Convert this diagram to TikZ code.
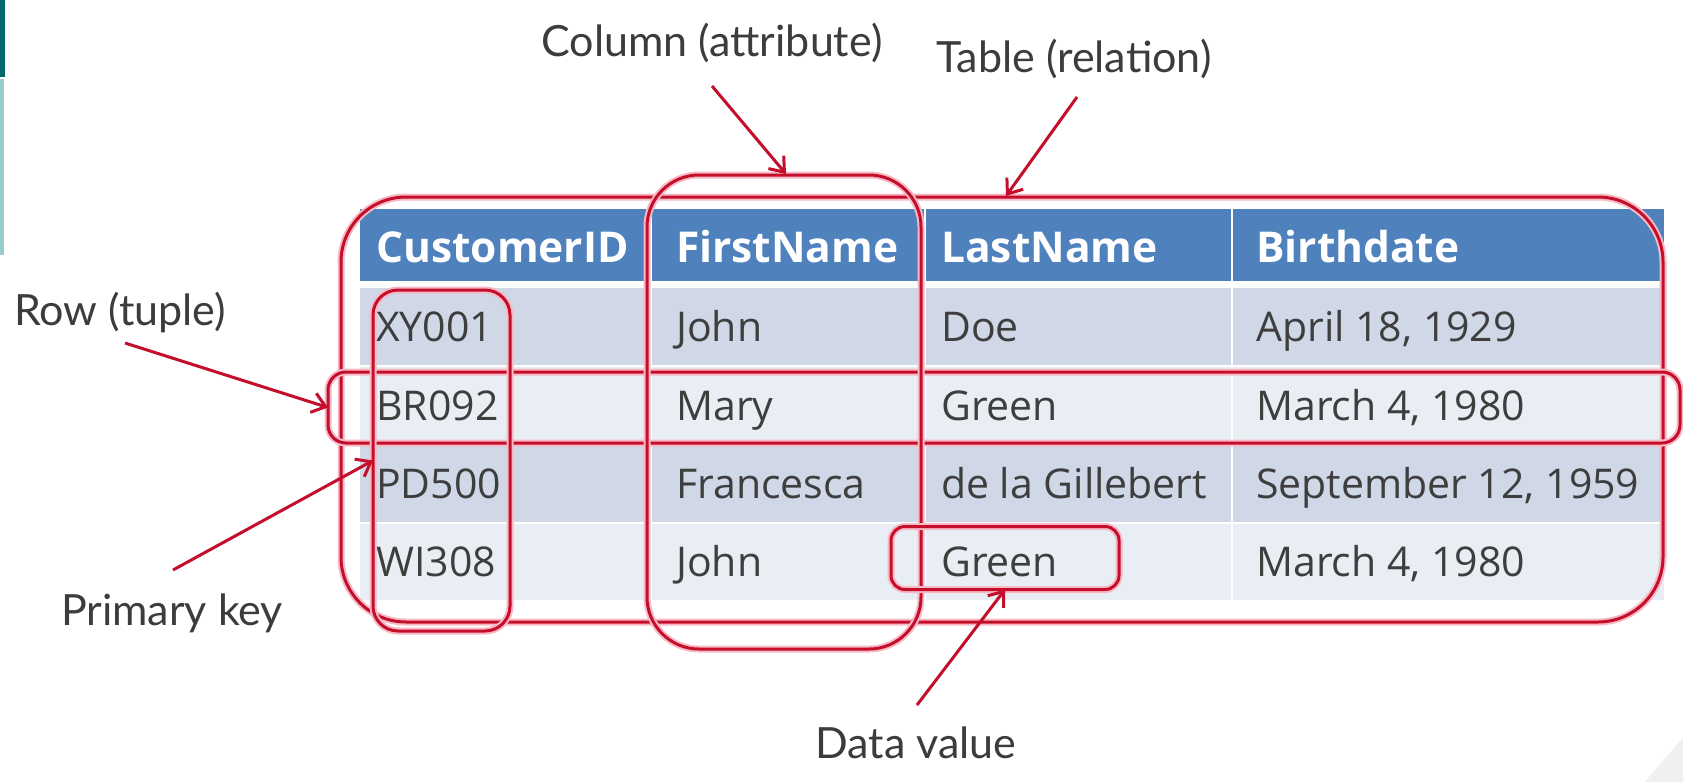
\documentclass[tikz,border=0pt]{standalone}
\usepackage{fontspec}
\setmainfont{Open Sans}
\newfontfamily\labfont{Lato}
\usetikzlibrary{arrows.meta}
\definecolor{hdr}{RGB}{79,129,189}
\definecolor{bandA}{RGB}{208,216,232}
\definecolor{bandB}{RGB}{233,237,244}
\definecolor{ann}{RGB}{196,14,44}
\definecolor{halo}{RGB}{247,185,196}
\definecolor{tealD}{RGB}{0,104,106}
\definecolor{tealL}{RGB}{152,204,204}
\definecolor{txt}{RGB}{62,62,62}
\definecolor{labtxt}{RGB}{60,60,60}
\begin{document}
\begin{tikzpicture}[x=1pt,y=-1pt,
  redbox/.style={draw=ann, line width=3pt, inner sep=0pt, outer sep=0pt,
    preaction={draw=halo, line width=7pt}},
  arr/.style={draw=ann, line width=3pt,
    -{Straight Barb[length=13pt,width=20pt,line width=3pt]}},
  cell/.style={font=\fontsize{41}{48}\selectfont, text=txt, inner sep=0pt, anchor=base west},
  head/.style={font=\fontsize{42.5}{50}\selectfont\bfseries, text=white, inner sep=0pt, anchor=base west},
  lab/.style={font=\labfont\fontsize{43}{50}\selectfont, text=labtxt, inner sep=0pt},
  sep/.style={draw=white, line width=2pt}
]
\useasboundingbox (0,0) rectangle (1683,782);
\fill[white] (0,0) rectangle (1683,782);
% side bar and corner
\fill[tealD] (0,0) rectangle (5,77);
\fill[tealL] (0,79) rectangle (4,255);
\fill[black!6] (1645,782) .. controls (1662,762) .. (1683,738) -- (1683,782) -- cycle;

% table body
\fill[hdr] (360,209) rectangle (1664,281);
\fill[bandA] (360,288) rectangle (1664,366);
\fill[bandB] (360,366) rectangle (1664,445);
\fill[bandA] (360,445) rectangle (1664,523);
\fill[bandB] (360,523) rectangle (1664,600);
\foreach \x in {651,925,1232} { \draw[sep] (\x,209) -- (\x,600); }
\foreach \y in {366,445,523} { \draw[sep, line width=1.5pt] (360,\y) -- (1664,\y); }

% header
\node[head] (h1) at (376,262) {CustomerID};
\node[head] (h2) at (676,262) {FirstName};
\node[head] (h3) at (941,262) {LastName};
\node[head] (h4) at (1256,262) {Birthdate};
% rows
\node[cell] (r1c1) at (376,341) {XY001};
\node[cell] (r1c2) at (676,341) {John};
\node[cell] (r1c3) at (941,341) {Doe};
\node[cell] (r1c4) at (1256,341) {April 18, 1929};
\node[cell] (r2c1) at (376,420) {BR092};
\node[cell] (r2c2) at (676,420) {Mary};
\node[cell] (r2c3) at (941,420) {Green};
\node[cell] (r2c4) at (1256,420) {March 4, 1980};
\node[cell] (r3c1) at (376,498) {PD500};
\node[cell] (r3c2) at (676,498) {Francesca};
\node[cell] (r3c3) at (941,498) {de la Gillebert};
\node[cell] (r3c4) at (1256,498) {September 12, 1959};
\node[cell] (r4c1) at (376,576) {WI308};
\node[cell] (r4c2) at (676,576) {John};
\node[cell] (r4c3) at (941,576) {Green};
\node[cell] (r4c4) at (1256,576) {March 4, 1980};

% annotation boxes
\node[redbox, rounded corners=65pt, minimum width=1322pt, minimum height=425pt] (tablebox) at (1002,409.5) {};
\node[redbox, rounded corners=18pt, minimum width=1352pt, minimum height=71pt] (rowbox) at (1004,407.5) {};
\node[redbox, rounded corners=25pt, minimum width=137pt, minimum height=341pt] (pkbox) at (441.5,460.5) {};
\node[redbox, rounded corners=52pt, minimum width=274pt, minimum height=474pt] (colbox) at (784,412) {};
\node[redbox, rounded corners=14pt, minimum width=228pt, minimum height=63pt] (databox) at (1005,558) {};

% labels
\node[lab] (collab) at (712,43) {Column (attribute)};
\node[lab] (tablab) at (1074,59) {Table (relation)};
\node[lab] (rowlab) at (120,313) {Row (tuple)};
\node[lab] (pklab) at (172,613) {Primary key};
\node[lab] (datalab) at (916,743) {Data value};

% arrow tails
\coordinate (coltail) at (712,86);
\coordinate (tabtail) at (1077,97);
\coordinate (rowtail) at (125,343);
\coordinate (pktail) at (173,570);
\coordinate (datatail) at (917,705);

% arrows
\draw[arr] (coltail) -- (786,174) coordinate (colhit);
\draw[arr] (tabtail) -- (1006,196) coordinate (tabhit);
\draw[arr] (rowtail) -- (rowbox.west);
\draw[arr] (pktail) -- (pkbox.west);
\draw[arr] (datatail) -- (databox.south);
\end{tikzpicture}
\end{document}
